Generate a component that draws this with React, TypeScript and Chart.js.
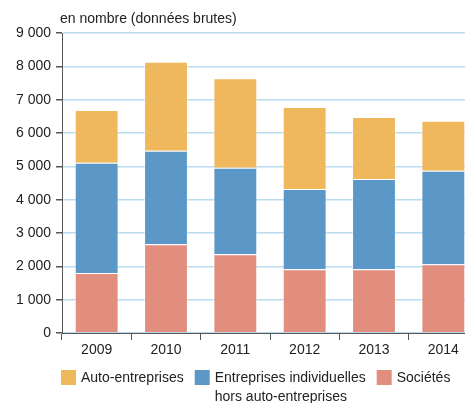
import React, { useEffect, useRef } from "react";
import { Chart, registerables } from "chart.js";

Chart.register(...registerables);

const years = ["2009", "2010", "2011", "2012", "2013", "2014"];
const societes = [1800, 2660, 2360, 1910, 1910, 2060];
const entreprisesIndiv = [3310, 2810, 2600, 2410, 2710, 2810];
const autoEntreprises = [1580, 2670, 2680, 2460, 1860, 1500];

const yTicks = [0, 1000, 2000, 3000, 4000, 5000, 6000, 7000, 8000, 9000];
const titleText = "en nombre (données brutes)";
const legendItems = [
  { lines: ["Auto-entreprises"], color: "#F0B85C" },
  { lines: ["Entreprises individuelles", "hors auto-entreprises"], color: "#5B98C7" },
  { lines: ["Sociétés"], color: "#E18E7E" },
];

const FONT = "'Liberation Sans', Arial, sans-serif";
const TEXT = "#222222";
const AXIS = "#555555";

const fmt = (v: number) => {
  const s = String(Math.round(v));
  return s.replace(/\B(?=(\d{3})+(?!\d))/g, " ");
};

const extrasPlugin = {
  id: "extras",
  afterDraw(chart: any) {
    const ctx = chart.ctx;
    const area = chart.chartArea;
    ctx.save();
    ctx.font = `14px ${FONT}`;
    ctx.fillStyle = TEXT;
    ctx.textBaseline = "middle";
    ctx.textAlign = "left";
    ctx.fillText(titleText, area.left - 2, 19);

    let x = area.left - 1;
    const boxY = 370;
    const lineY = 378;
    const lineH = 19;
    legendItems.forEach((it) => {
      ctx.fillStyle = it.color;
      ctx.fillRect(x, boxY, 15, 15);
      ctx.fillStyle = TEXT;
      let w = 0;
      it.lines.forEach((ln, i) => {
        ctx.fillText(ln, x + 20, lineY + i * lineH);
        w = Math.max(w, ctx.measureText(ln).width);
      });
      x += 20 + w + 11;
    });
    ctx.restore();
  },
};

export default function App() {
  const ref = useRef<HTMLCanvasElement | null>(null);
  useEffect(() => {
    if (!ref.current) return;
    const chart = new Chart(ref.current, {
      type: "bar",
      data: {
        labels: years,
        datasets: [
          { label: "Sociétés", data: societes, backgroundColor: "#E18E7E" },
          { label: "Entreprises individuelles hors auto-entreprises", data: entreprisesIndiv, backgroundColor: "#5B98C7" },
          { label: "Auto-entreprises", data: autoEntreprises, backgroundColor: "#F0B85C" },
        ].map((d) => ({
          ...d,
          borderColor: "rgba(255,255,255,0.45)",
          borderWidth: 1,
          barPercentage: 0.633,
          categoryPercentage: 1,
        })),
      },
      options: {
        responsive: false,
        animation: false,
        devicePixelRatio: 1,
        layout: { padding: { top: 33, left: 0, right: 0, bottom: 0 } },
        plugins: { legend: { display: false }, tooltip: { enabled: false }, title: { display: false } },
        scales: {
          x: {
            stacked: true,
            grid: {
              display: true,
              drawOnChartArea: false,
              drawTicks: true,
              tickLength: 7,
              tickColor: AXIS,
              offset: true,
            },
            border: { display: true, color: AXIS, width: 1 },
            ticks: { color: TEXT, font: { family: FONT, size: 14 }, padding: 2 },
            afterFit: (s: any) => {
              s.height = 70;
            },
          },
          y: {
            stacked: true,
            min: 0,
            max: 9000,
            afterBuildTicks: (s: any) => {
              s.ticks = yTicks.map((v) => ({ value: v }));
            },
            grid: {
              color: "#B9DCF0",
              lineWidth: 1.5,
              tickColor: AXIS,
              tickLength: 6,
              drawTicks: true,
            },
            border: { display: true, color: AXIS, width: 1 },
            ticks: {
              color: TEXT,
              font: { family: FONT, size: 14 },
              padding: 5,
              callback: (v: any) => fmt(Number(v)),
            },
            afterFit: (s: any) => {
              s.width = 62;
            },
          },
        },
      },
      plugins: [extrasPlugin],
    } as any);
    return () => chart.destroy();
  }, []);
  return (
    <div style={{ position: "fixed", left: 0, top: 0, width: 465, height: 403, overflow: "hidden", background: "#fff" }}>
      <canvas ref={ref} width={478} height={403} style={{ display: "block", width: 478, height: 403 }} />
    </div>
  );
}
